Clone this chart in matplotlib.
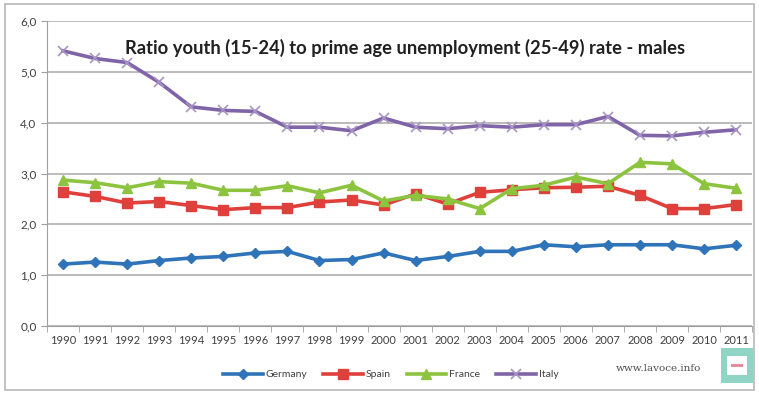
import numpy as np
import matplotlib.pyplot as plt
from matplotlib.patches import Rectangle

years = [str(y) for y in range(1990, 2012)]
germany = [1.22, 1.26, 1.22, 1.29, 1.34, 1.37, 1.44, 1.47, 1.29, 1.31, 1.44,
           1.29, 1.37, 1.47, 1.47, 1.60, 1.56, 1.60, 1.60, 1.60, 1.52, 1.59]
spain = [2.64, 2.55, 2.42, 2.45, 2.37, 2.29, 2.33, 2.33, 2.44, 2.48, 2.38,
         2.60, 2.40, 2.63, 2.68, 2.72, 2.73, 2.75, 2.57, 2.31, 2.31, 2.39]
france = [2.87, 2.82, 2.72, 2.84, 2.81, 2.67, 2.67, 2.76, 2.62, 2.77, 2.46,
          2.57, 2.50, 2.31, 2.70, 2.77, 2.93, 2.80, 3.22, 3.19, 2.80, 2.71]
italy = [5.41, 5.26, 5.18, 4.79, 4.31, 4.24, 4.22, 3.91, 3.91, 3.84, 4.09,
         3.91, 3.88, 3.94, 3.91, 3.96, 3.96, 4.12, 3.75, 3.74, 3.81, 3.86]

plt.rcParams['font.family'] = ['Lato', 'DejaVu Sans']

fig = plt.figure(figsize=(7.59, 3.93), dpi=100)
fig.patches.append(Rectangle((0.006, 0.008), 0.988, 0.982, transform=fig.transFigure,
                             fill=False, edgecolor='#b8b8b8', linewidth=1.2))
ax = fig.add_axes([0.062, 0.170, 0.929, 0.777])

x = np.arange(len(years))
ax.plot(x, germany, color='#2f74b8', lw=2.6, marker='D', ms=5.5, label='Germany')
ax.plot(x, spain, color='#e0403c', lw=2.6, marker='s', ms=7, label='Spain')
ax.plot(x, france, color='#8cc43f', lw=2.6, marker='^', ms=7, label='France')
ax.plot(x, italy, color='#8064a8', lw=2.6, marker='x', ms=7, mew=1.2,
        mec='#a894c4', label='Italy')

ax.set_xlim(-0.5, len(years) - 0.5)
ax.set_ylim(0, 6)
ax.set_yticks(np.arange(0, 7, 1))
ax.set_yticklabels(['%d,0' % v for v in range(7)], fontsize=8.5, color='#404040')
ax.set_xticks(x)
ax.set_xticklabels(years, fontsize=8, color='#404040')
ax.set_xticks(np.arange(-0.5, len(years), 1), minor=True)
ax.tick_params(axis='x', which='major', length=0, pad=6)
ax.tick_params(axis='x', which='minor', length=4, color='#a0a0a0')
ax.tick_params(axis='y', length=4, color='#a0a0a0')
ax.grid(axis='y', color='#a8a8a8', lw=1.1)
ax.set_axisbelow(True)
for s in ['top', 'right']:
    ax.spines[s].set_visible(False)
for s in ['left', 'bottom']:
    ax.spines[s].set_color('#a0a0a0')

ax.text(0.508, 0.91, 'Ratio youth (15-24) to prime age unemployment (25-49) rate - males',
        transform=ax.transAxes, ha='center', va='center', fontsize=13.2,
        fontweight='bold', color='#202020')

fig.legend(loc='center', bbox_to_anchor=(0.515, 0.047), ncol=4, frameon=False,
           fontsize=7.5, handlelength=3.8, columnspacing=1.5, handletextpad=0.3,
           labelcolor='#404040')

fig.text(0.868, 0.062, 'www.lavoce.info', ha='center', va='center', fontsize=7.5,
         family='DejaVu Serif', color='#505050')
fig.patches.append(Rectangle((0.950, 0.025), 0.042, 0.09, transform=fig.transFigure,
                             facecolor='#8fd4c4', edgecolor='none'))
fig.patches.append(Rectangle((0.958, 0.045), 0.026, 0.05, transform=fig.transFigure,
                             facecolor='white', edgecolor='none'))
fig.patches.append(Rectangle((0.963, 0.066), 0.016, 0.008, transform=fig.transFigure,
                             facecolor='#e88a9a', edgecolor='none'))

fig.savefig('out.png', dpi=100)
